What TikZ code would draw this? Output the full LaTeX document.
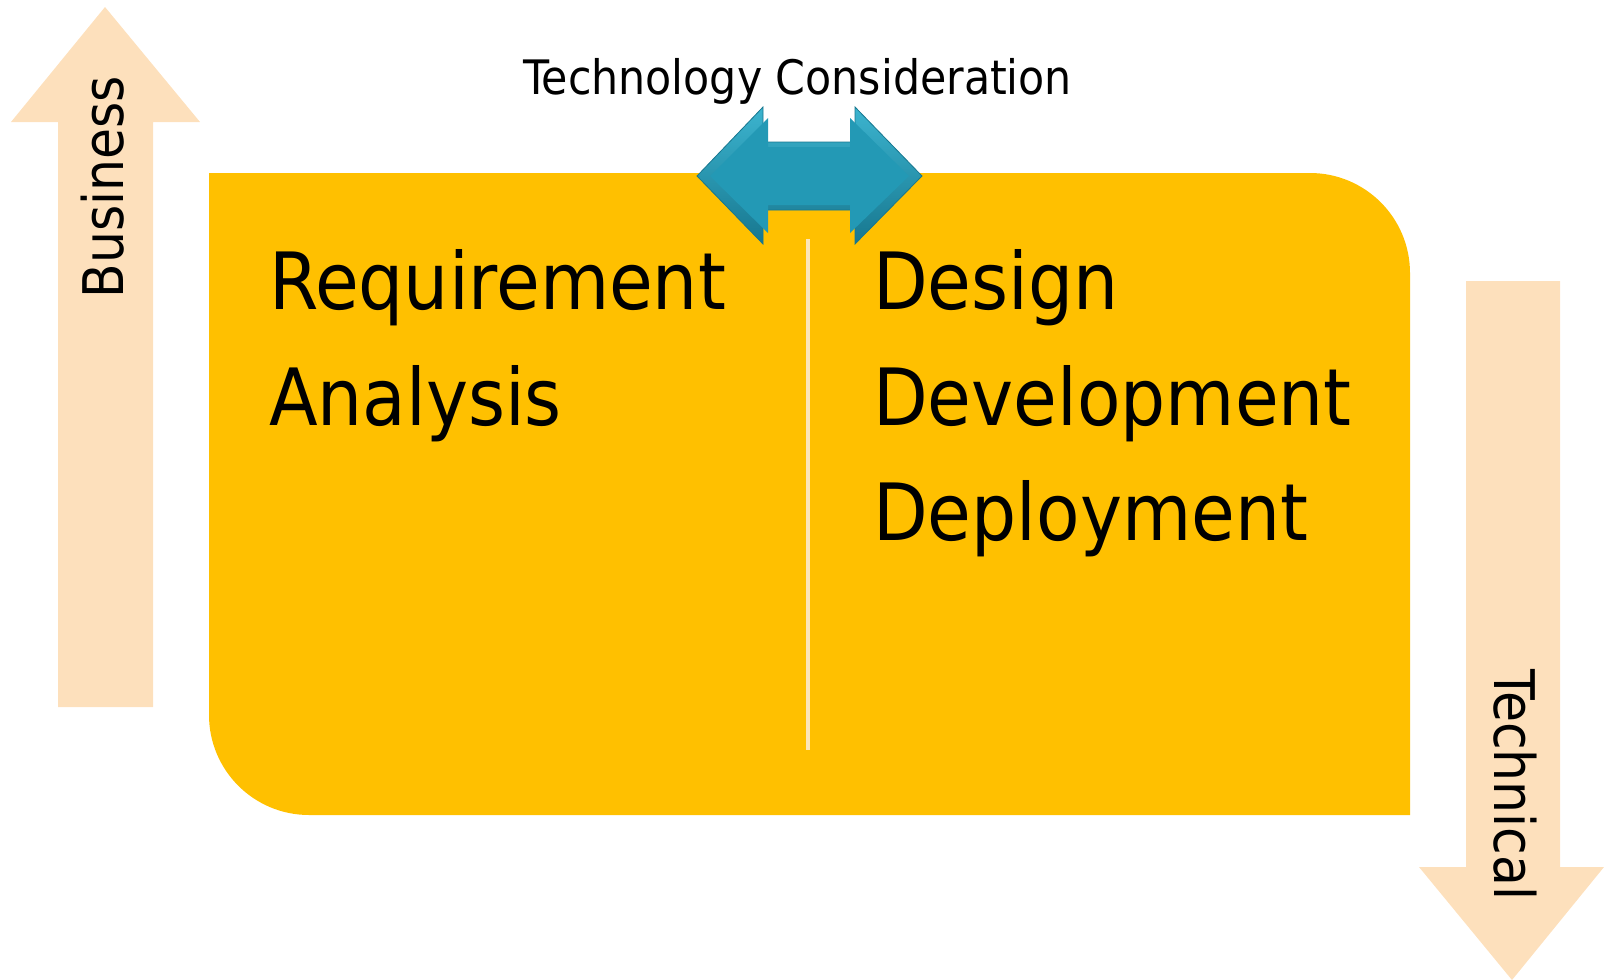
\documentclass[tikz,border=0pt]{standalone}
\usepackage{fontspec}
\setmainfont{DejaVu Sans Condensed}
\definecolor{gold}{HTML}{FFC000}
\definecolor{peach}{HTML}{FDE0BC}
\definecolor{cream}{HTML}{FCE6BA}
\definecolor{tealA}{HTML}{3CB4CF}
\definecolor{tealB}{HTML}{2399B5}
\definecolor{tealC}{HTML}{17778F}
\tikzset{
  bigtxt/.style={anchor=base west, inner sep=0pt, font=\fontsize{79}{79}\selectfont},
  sidetxt/.style={inner sep=0pt, font=\fontsize{56}{56}\selectfont},
  toptxt/.style={anchor=base, inner sep=0pt, font=\fontsize{47.5}{47.5}\selectfont},
}
\begin{document}
\begin{tikzpicture}[x=1pt,y=-1pt]
\useasboundingbox (0,0) rectangle (1604,980);
% main box
\fill[gold] (209,173) -- (1310,173) arc[start angle=90,end angle=0,radius=100pt]
  -- (1410,815) -- (309,815) arc[start angle=270,end angle=180,radius=100pt] -- cycle;
% side arrows
\fill[peach] (105,7) -- (200,122) -- (153,122) -- (153,707) -- (58,707) -- (58,122) -- (11,122) -- cycle;
\fill[peach] (1466,281) -- (1560,281) -- (1560,867) -- (1604,867) -- (1512,980) -- (1419,867) -- (1466,867) -- cycle;
% divider
\draw[cream, line width=4pt] (808,239) -- (808,750);
% double arrow
\shade[top color=tealA, bottom color=tealC, draw=tealC, line width=0.8pt]
  (697,176) -- (763,107) -- (763,142) -- (855,142) -- (855,107) -- (922,176)
  -- (855,244) -- (855,210) -- (763,210) -- (763,244) -- cycle;
\fill[tealB] (710,176) -- (768,118) -- (768,147) -- (850,147) -- (850,118) -- (909,176)
  -- (850,233) -- (850,205) -- (768,205) -- (768,233) -- cycle;
% texts
\node[toptxt] (tech) at (798,94) {Technology Consideration};
\node[sidetxt, rotate=90] (bus) at (103,187) {Business};
\node[sidetxt, rotate=-90] (techn) at (1515,785) {Technical};
\node[bigtxt] (req) at (269,309) {Requirement};
\node[bigtxt] (ana) at (269,425) {Analysis};
\node[bigtxt] (des) at (873,309) {Design};
\node[bigtxt] (dev) at (873,425) {Development};
\node[bigtxt] (dep) at (873,540) {Deployment};
\end{tikzpicture}
\end{document}
